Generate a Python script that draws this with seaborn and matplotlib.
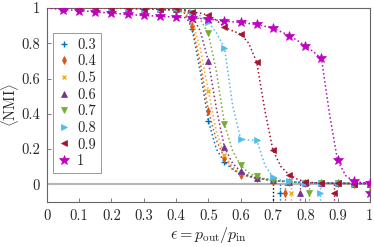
import matplotlib
matplotlib.use('Agg')
import matplotlib.pyplot as plt
import seaborn as sns
import pandas as pd
from matplotlib.lines import Line2D

# epsilon grid (markers every second point)
eps = [0.0, 0.025, 0.05, 0.075, 0.1, 0.125, 0.15, 0.175, 0.2, 0.225,
       0.25, 0.275, 0.3, 0.325, 0.35, 0.375, 0.4, 0.425, 0.45, 0.475,
       0.5, 0.525, 0.55, 0.575, 0.6, 0.625, 0.65, 0.675, 0.7, 0.725,
       0.75, 0.775, 0.8, 0.825, 0.85, 0.875, 0.9, 0.925, 0.95, 0.975, 1.0]

head = [1.0, 1.0, 1.0, 1.0, 1.0, 1.0, 1.0, 1.0, 0.999, 0.999,
        0.998, 0.997, 0.996, 0.995, 0.993, 0.99]
tail = [0.012, 0.01, 0.009, 0.008, 0.007, 0.006, 0.006, 0.005, 0.005, 0.005]

nmi_03 = head + [0.985, 0.975, 0.88, 0.64, 0.36, 0.2, 0.125, 0.085, 0.058,
                 0.045, 0.035, 0.028, 0.022, 0.018, 0.015] + tail
nmi_04 = head + [0.988, 0.978, 0.90, 0.69, 0.418, 0.25, 0.15, 0.09, 0.056,
                 0.044, 0.035, 0.028, 0.022, 0.018, 0.015] + tail
nmi_05 = head + [0.99, 0.982, 0.93, 0.77, 0.53, 0.3, 0.165, 0.1, 0.064,
                 0.046, 0.036, 0.029, 0.023, 0.018, 0.015] + tail
nmi_06 = head + [0.992, 0.988, 0.955, 0.87, 0.70, 0.43, 0.21, 0.12, 0.074,
                 0.05, 0.038, 0.03, 0.024, 0.019, 0.015] + tail
nmi_07 = head + [0.995, 0.992, 0.97, 0.935, 0.855, 0.64, 0.342, 0.19, 0.108,
                 0.065, 0.045, 0.032, 0.024, 0.019, 0.016] + tail
nmi_08 = head + [0.997, 0.993, 0.975, 0.955, 0.918, 0.86, 0.773, 0.45, 0.257,
                 0.252, 0.25, 0.11, 0.04, 0.024, 0.017] + tail
nmi_09 = head + [0.998, 0.99, 0.978, 0.97, 0.958, 0.93, 0.892, 0.87, 0.852,
                 0.8, 0.691, 0.42, 0.193, 0.1, 0.055, 0.03, 0.015, 0.01,
                 0.008, 0.007, 0.006, 0.006, 0.005, 0.005, 0.005]
nmi_1 = [1.0, 0.995, 0.99, 0.988, 0.985, 0.981, 0.977, 0.974, 0.971, 0.967,
         0.963, 0.96, 0.957, 0.955, 0.953, 0.95, 0.947, 0.945, 0.943, 0.94,
         0.938, 0.93, 0.925, 0.921, 0.918, 0.912, 0.906, 0.896, 0.884, 0.865,
         0.843, 0.816, 0.786, 0.752, 0.714, 0.40, 0.136, 0.05, 0.017, 0.01,
         0.008]

labels = ['0.3', '0.4', '0.5', '0.6', '0.7', '0.8', '0.9', '1']
series = [nmi_03, nmi_04, nmi_05, nmi_06, nmi_07, nmi_08, nmi_09, nmi_1]
thresholds = [0.722, 0.737, 0.756, 0.784, 0.812, 0.846, 0.889, 1.0]
black_threshold = 0.7

colors = ['#0072bd', '#d95319', '#edb120', '#7e2f8e', '#77ac30', '#4dbeee',
          '#a2142f', '#c000c0']
markers = ['+', 'd', 'x', '^', 'v', '>', '<', '*']
msizes = [4.5, 4.2, 3.5, 5, 5, 5, 5, 7]

sns.set_style('white')
plt.rcParams['font.family'] = ['cmr10', 'DejaVu Serif']
plt.rcParams['mathtext.fontset'] = 'cm'
plt.rcParams['axes.formatter.use_mathtext'] = True

fig = plt.figure(figsize=(3.74, 2.47), dpi=100)
ax = fig.add_axes([0.125, 0.182, 0.864, 0.786])

ax.axhline(0, color='#b4b4b4', lw=1.5, zorder=1)

for lab, vals, c, m, ms in zip(labels, series, colors, markers, msizes):
    df = pd.DataFrame({'eps': eps, 'nmi': vals})
    sns.lineplot(data=df, x='eps', y='nmi', ax=ax, color=c, ls=':', lw=1.1,
                 marker=m, ms=ms, mew=1.0 if m in '+x' else 0.5,
                 mec=c, mfc=c, markevery=slice(2, None, 2), zorder=3)

# detectability thresholds below the axis
ax.plot([black_threshold, black_threshold], [0, -0.1], color='black',
        ls=':', lw=1.0, zorder=2)
for t, c, m, ms in zip(thresholds, colors, markers, msizes):
    ax.plot([t, t, t], [0, -0.05, -0.1], color=c, ls=':', lw=1.0,
            marker=m, ms=ms, mew=1.0 if m in '+x' else 0.5, mec=c, mfc=c,
            markevery=[1], zorder=2)

ax.set_xlim(0, 1)
ax.set_ylim(-0.1, 1)
xt = [0, 0.1, 0.2, 0.3, 0.4, 0.5, 0.6, 0.7, 0.8, 0.9, 1]
yt = [0, 0.2, 0.4, 0.6, 0.8, 1]
ax.set_xticks(xt)
ax.set_xticklabels(['%g' % v for v in xt])
ax.set_yticks(yt)
ax.set_yticklabels(['%g' % v for v in yt])
ax.tick_params(direction='in', length=3, width=0.6, color='#666666',
               labelsize=10.5, pad=5, bottom=True, left=True)
for s in ax.spines.values():
    s.set_color('#666666')
    s.set_linewidth(0.8)

ax.set_xlabel(r'$\epsilon = p_{\mathrm{out}}/p_{\mathrm{in}}$', fontsize=11.5,
              labelpad=2)
ax.set_ylabel(r'$\langle \mathrm{NMI} \rangle$', fontsize=10.5, va='center')
ax.yaxis.set_label_coords(-0.113, 0.5)

handles = [Line2D([], [], ls='none', marker=m, color=c, ms=ms,
                  mew=1.0 if m in '+x' else 0.5)
           for c, m, ms in zip(colors, markers, msizes)]
leg = ax.legend(handles, labels, loc='upper left',
                bbox_to_anchor=(0.0195, 0.871), borderaxespad=0,
                fontsize=10.5, handlelength=0.8, handletextpad=0.5,
                labelspacing=0.2, borderpad=0.35, fancybox=False,
                framealpha=1, edgecolor='#888888')
leg.get_frame().set_linewidth(0.6)

fig.savefig('out.png', dpi=100)
